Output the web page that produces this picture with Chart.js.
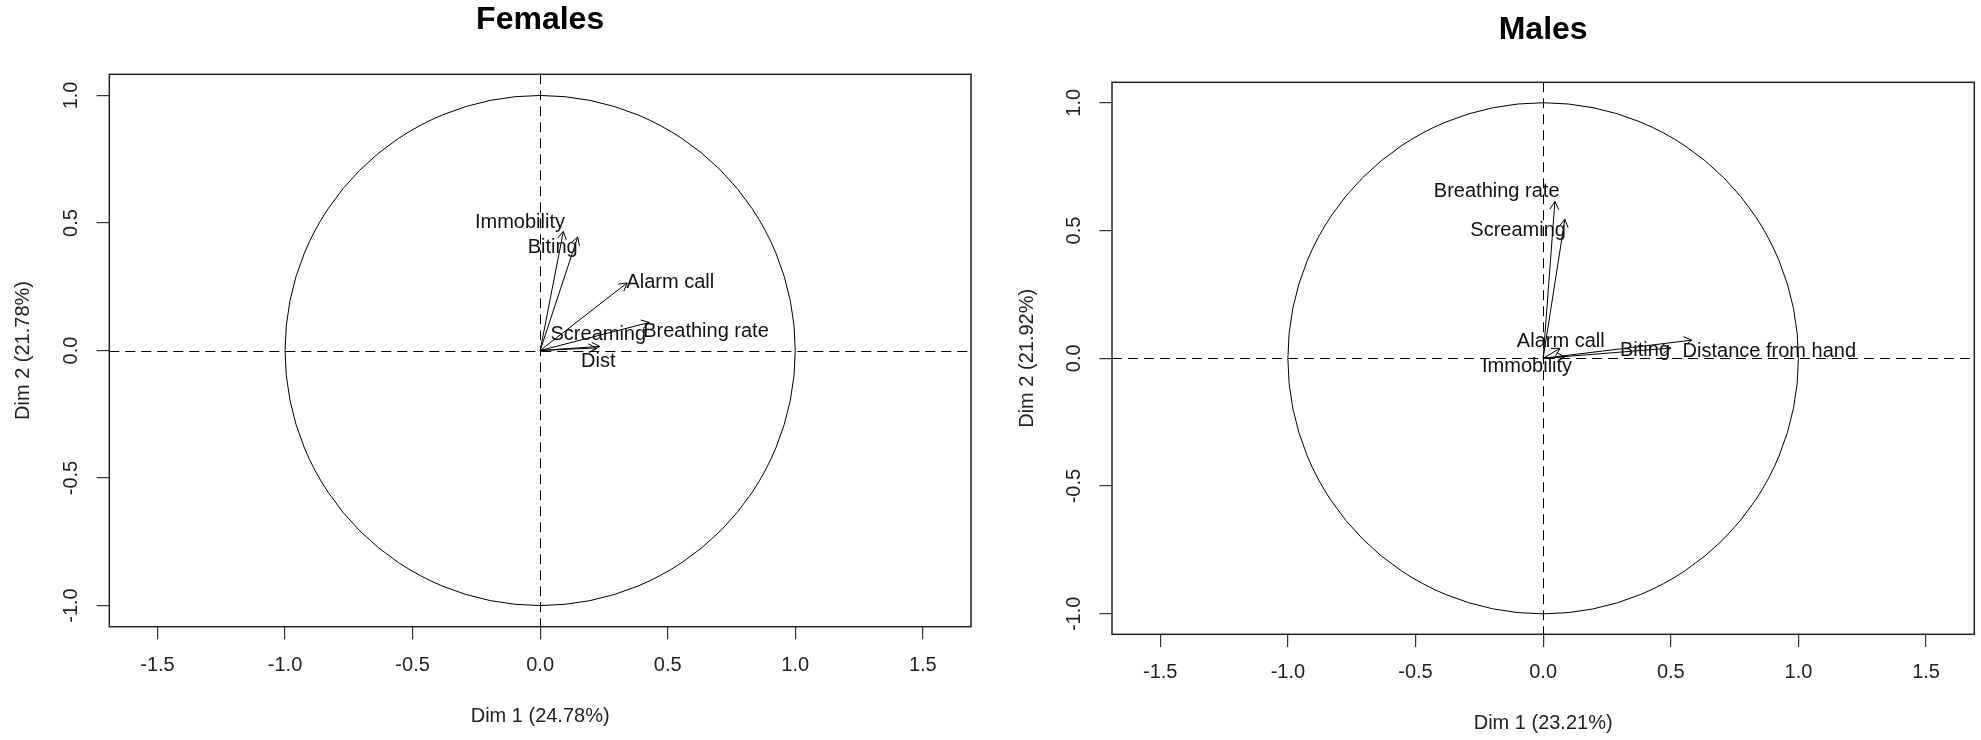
<!DOCTYPE html>
<html>
<head>
<meta charset="utf-8">
<script src="https://cdn.jsdelivr.net/npm/chart.js@4.4.1/dist/chart.umd.min.js"></script>
<style>
  html, body { margin: 0; padding: 0; background: #fff; }
  #wrap { position: relative; width: 1981px; height: 740px; }
  canvas { position: absolute; top: 0; }
</style>
</head>
<body>
<div id="wrap">
  <canvas id="females" width="990" height="740" style="left:0"></canvas>
  <canvas id="males" width="991" height="740" style="left:990px"></canvas>
</div>
<script>
// tick values shared by both panels
const xTicks = [-1.5, -1.0, -0.5, 0.0, 0.5, 1.0, 1.5];
const yTicks = [-1.0, -0.5, 0.0, 0.5, 1.0];

// Females: variable coordinates on Dim 1 / Dim 2, and where each label sits
const femaleVars = ['Immobility', 'Biting', 'Alarm call', 'Breathing rate', 'Screaming', 'Dist'];
const femaleDim1 = [0.091, 0.147, 0.341, 0.428, 0.220, 0.234];
const femaleDim2 = [0.467, 0.445, 0.265, 0.110, 0.010, 0.016];
const femaleLabelX = [-0.079, 0.049, 0.510, 0.650, 0.228, 0.228];
const femaleLabelY = [0.500, 0.402, 0.265, 0.075, 0.062, -0.043];

// Males
const maleVars = ['Breathing rate', 'Screaming', 'Alarm call', 'Immobility', 'Biting', 'Distance from hand'];
const maleDim1 = [0.046, 0.085, 0.066, 0.085, 0.500, 0.582];
const maleDim2 = [0.613, 0.544, 0.039, 0.006, 0.040, 0.071];
const maleLabelX = [-0.182, -0.098, 0.069, -0.063, 0.399, 0.886];
const maleLabelY = [0.652, 0.502, 0.067, -0.033, 0.032, 0.025];

const FONT = "'Liberation Sans', Arial, sans-serif";
const INK = '#000';

// circle, dashed zero lines, arrow heads, labels and the plot box
const biplotPlugin = {
  id: 'biplot',
  beforeDatasetsDraw(chart) {
    const {ctx, chartArea: a, scales: {x, y}} = chart;
    const x0 = x.getPixelForValue(0), y0 = y.getPixelForValue(0);
    ctx.save();
    ctx.strokeStyle = INK;
    ctx.lineWidth = 1;
    ctx.beginPath();
    ctx.ellipse(x0, y0, x.getPixelForValue(1) - x0, y0 - y.getPixelForValue(1), 0, 0, Math.PI * 2);
    ctx.stroke();
    ctx.setLineDash([10, 6]);
    ctx.beginPath();
    const yc = Math.round(y0) + 0.5, xc = Math.round(x0) + 0.5;
    ctx.moveTo(a.left, yc); ctx.lineTo(a.right, yc);
    ctx.moveTo(xc, a.top); ctx.lineTo(xc, a.bottom);
    ctx.stroke();
    ctx.restore();
  },
  afterDatasetsDraw(chart, args, opts) {
    const {ctx, scales: {x, y}} = chart;
    ctx.save();
    ctx.strokeStyle = INK;
    ctx.lineWidth = 1;
    chart.data.datasets.forEach((ds, i) => {
      const pts = chart.getDatasetMeta(i).data;
      const p0 = pts[0], p1 = pts[1];
      const ang = Math.atan2(p1.y - p0.y, p1.x - p0.x);
      const len = 9;
      ctx.beginPath();
      ctx.moveTo(p1.x - len * Math.cos(ang - Math.PI / 6), p1.y - len * Math.sin(ang - Math.PI / 6));
      ctx.lineTo(p1.x, p1.y);
      ctx.lineTo(p1.x - len * Math.cos(ang + Math.PI / 6), p1.y - len * Math.sin(ang + Math.PI / 6));
      ctx.stroke();
    });
    ctx.fillStyle = '#111';
    ctx.font = '20px ' + FONT;
    ctx.textAlign = 'center';
    ctx.textBaseline = 'middle';
    opts.labels.forEach((t, i) => {
      ctx.fillText(t, x.getPixelForValue(opts.labelX[i]), y.getPixelForValue(opts.labelY[i]));
    });
    ctx.restore();
  },
  afterDraw(chart) {
    const {ctx, chartArea: a} = chart;
    ctx.save();
    ctx.strokeStyle = '#222';
    ctx.lineWidth = 1.5;
    ctx.strokeRect(a.left, a.top, a.right - a.left, a.bottom - a.top);
    ctx.restore();
  }
};

function makeBiplot(id, p) {
  return new Chart(document.getElementById(id), {
    type: 'scatter',
    data: {
      datasets: p.vars.map((v, i) => ({
        label: v,
        data: [{x: 0, y: 0}, {x: p.dim1[i], y: p.dim2[i]}],
        showLine: true,
        borderColor: INK,
        borderWidth: 1,
        pointRadius: 0
      }))
    },
    options: {
      responsive: false,
      animation: false,
      layout: {padding: {left: 0, right: p.padRight, top: 0, bottom: 0}},
      plugins: {
        legend: {display: false},
        tooltip: {enabled: false},
        title: {
          display: true,
          text: p.title,
          fullSize: false,
          color: '#000',
          font: {family: FONT, size: 32, weight: 'bold', lineHeight: 1.2},
          padding: {top: p.titleTop, bottom: p.titleBottom}
        },
        biplot: {labels: p.vars, labelX: p.labelX, labelY: p.labelY}
      },
      scales: {
        x: {
          type: 'linear',
          min: -1.689, max: 1.689,
          afterBuildTicks: s => { s.ticks = xTicks.map(v => ({value: v})); },
          afterFit: s => { s.height = p.xAxisHeight; s.paddingLeft = 0; s.paddingRight = 0; },
          grid: {drawOnChartArea: false, tickLength: 12.6, color: '#333', lineWidth: 1.2},
          border: {display: false},
          ticks: {
            autoSkip: false, maxRotation: 0, minRotation: 0, padding: 13.7,
            color: '#222', font: {family: FONT, size: 20, lineHeight: 1.2},
            callback: v => v.toFixed(1)
          },
          title: {
            display: true, text: p.xTitle, color: '#222',
            font: {family: FONT, size: 20, lineHeight: 1.2},
            padding: {top: 0, bottom: p.xTitlePad}
          }
        },
        y: {
          type: 'linear',
          min: -p.yLim, max: p.yLim,
          afterBuildTicks: s => { s.ticks = yTicks.map(v => ({value: v})); },
          afterFit: s => { s.width = p.yAxisWidth; s.paddingTop = 0; s.paddingBottom = 0; },
          grid: {drawOnChartArea: false, tickLength: 12.6, color: '#333', lineWidth: 1.2},
          border: {display: false},
          ticks: {
            autoSkip: false, minRotation: 90, maxRotation: 90, crossAlign: 'center',
            padding: p.yTickPad,
            color: '#222', font: {family: FONT, size: 20, lineHeight: 1.2},
            callback: v => v.toFixed(1)
          },
          title: {
            display: true, text: p.yTitle, color: '#222',
            font: {family: FONT, size: 20, lineHeight: 1.2},
            padding: {top: p.yTitlePad, bottom: 0}
          }
        }
      }
    },
    plugins: [biplotPlugin]
  });
}

makeBiplot('females', {
  title: 'Females', xTitle: 'Dim 1 (24.78%)', yTitle: 'Dim 2 (21.78%)',
  vars: femaleVars, dim1: femaleDim1, dim2: femaleDim2, labelX: femaleLabelX, labelY: femaleLabelY,
  yLim: 1.083, padRight: 19, titleTop: 1.3, titleBottom: 34.6,
  xAxisHeight: 113.3, xTitlePad: 12, yAxisWidth: 109.3, yTickPad: 7.5, yTitlePad: 11
});

makeBiplot('males', {
  title: 'Males', xTitle: 'Dim 1 (23.21%)', yTitle: 'Dim 2 (21.92%)',
  vars: maleVars, dim1: maleDim1, dim2: maleDim2, labelX: maleLabelX, labelY: maleLabelY,
  yLim: 1.08, padRight: 6.7, titleTop: 11.3, titleBottom: 32.6,
  xAxisHeight: 105.7, xTitlePad: 5, yAxisWidth: 122, yTickPad: 7.2, yTitlePad: 25.6
});
</script>
</body>
</html>
